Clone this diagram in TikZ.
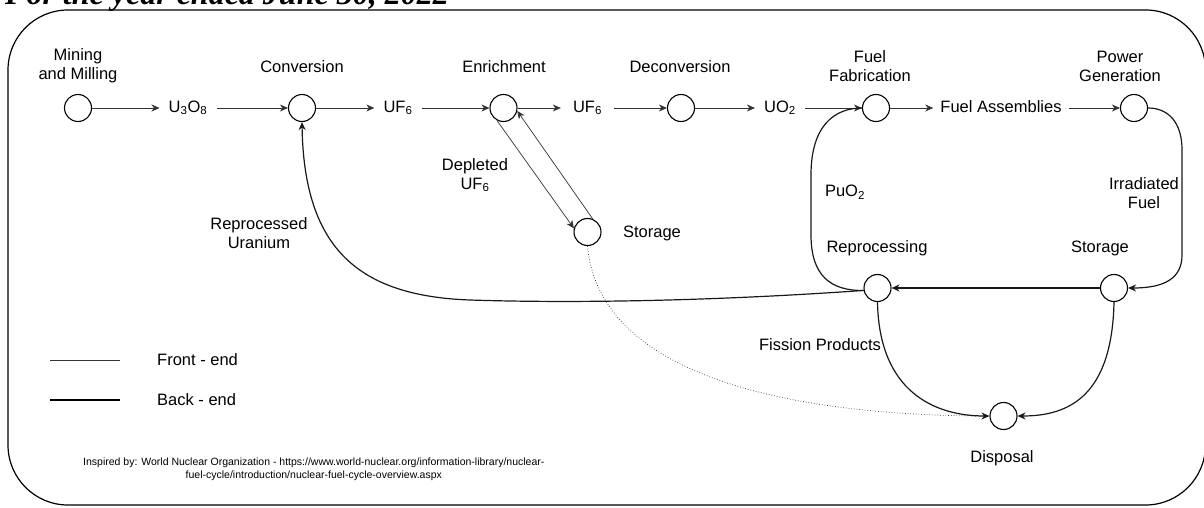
\documentclass[tikz,border=0pt]{standalone}
\usepackage{fontspec}
\setmainfont{Liberation Sans}
\newfontfamily\titlefont{Liberation Serif}
\usetikzlibrary{arrows.meta}
\begin{document}
\begin{tikzpicture}[x=1pt,y=-1pt,
  font=\fontsize{16.5}{19}\selectfont,
  proc/.style={circle,draw,line width=1.1pt,minimum size=27pt,inner sep=0pt},
  lab/.style={inner xsep=9pt,inner ysep=0pt,text height=12pt,text depth=3.5pt},
  txt/.style={align=center,inner sep=0pt},
  front/.style={line width=0.7pt,draw=black!80},
  back/.style={line width=1.2pt,draw=black!90},
  arr/.style={-{Stealth[length=8pt,width=7pt,inset=2.5pt]}},
]
\useasboundingbox (0,0) rectangle (1204,508);
% cropped heading
\node[anchor=base west,inner sep=0pt,font=\titlefont\bfseries\itshape\fontsize{32}{36}\selectfont] (title) at (5,5) {For the year ended June 30, 2022};
% frame
\draw[line width=1.2pt,rounded corners=60pt] (8,10) rectangle (1205.5,505);

% process circles
\node[proc] (mm)   at (78,108) {};
\node[proc] (conv) at (302,108) {};
\node[proc] (enr)  at (503.5,108) {};
\node[proc] (dec)  at (681,108) {};
\node[proc] (ff)   at (876,108) {};
\node[proc] (pg)   at (1134,108) {};
\node[proc] (sto1) at (587.5,232) {};
\node[proc] (rep)  at (877.5,288) {};
\node[proc] (sto2) at (1114,288) {};
\node[proc] (disp) at (1003.5,416) {};

% stage titles
\node[txt] (tmm)   at (78,66)   {Mining\\and Milling};
\node[txt] (tconv) at (302,67)  {Conversion};
\node[txt] (tenr)  at (504,67)  {Enrichment};
\node[txt] (tdec)  at (680,67)  {Deconversion};
\node[txt] (tff)   at (870,66)  {Fuel\\Fabrication};
\node[txt] (tpg)   at (1120,66) {Power\\Generation};
\node[txt] (tsto1) at (652,233) {Storage};
\node[txt] (trep)  at (877,248) {Reprocessing};
\node[txt] (tsto2) at (1100,248) {Storage};
\node[txt] (tdisp) at (1002,458) {Disposal};

% flow labels
\node[lab] (u3o8) at (188,108)  {U\textsubscript{3}O\textsubscript{8}};
\node[lab] (uf6a) at (398,108)  {UF\textsubscript{6}};
\node[lab,inner xsep=12pt] (uf6b) at (587.5,108) {UF\textsubscript{6}};
\node[lab] (uo2)  at (780,108)  {UO\textsubscript{2}};
\node[lab,inner xsep=7pt] (fa) at (1001,108) {Fuel Assemblies};
\node[txt] (dep)  at (475,175)  {Depleted\\UF\textsubscript{6}};
\node[txt] (ru)   at (259,233)  {Reprocessed\\Uranium};
\node[txt] (puo2) at (845,192)  {PuO\textsubscript{2}};
\node[txt] (irr)  at (1144,193) {Irradiated\\Fuel};
\node[txt] (fp)   at (820,345)  {Fission Products};

% front-end flows
\draw[front,arr] (mm) -- (mm -| u3o8.west);
\draw[front,arr] (u3o8) -- (conv);
\draw[front,arr] (conv) -- (conv -| uf6a.west);
\draw[front,arr] (uf6a) -- (enr);
\draw[front,arr] (enr) -- (enr -| uf6b.west);
\draw[front,arr] (uf6b) -- (dec);
\draw[front,arr] (dec) -- (dec -| uo2.west);
\draw[front,arr] (uo2) -- (ff);
\draw[front,arr] (ff) -- (ff -| fa.west);
\draw[front,arr] (fa) -- (pg);
\draw[front,arr] (enr.-118) -- (sto1.165);
\draw[front,arr] (sto1.68) -- (enr.-12);
\draw[front,dotted] (sto1.south) .. controls (600,380) and (800,416) .. (disp.west);

% back-end flows
\coordinate (irrA) at (1182,150);
\coordinate (irrB) at (1182,255);
\draw[back,arr] (pg.east) .. controls (1168,108) and (1182,122) .. (irrA) -- (irrB) .. controls (1182,278) and (1165,288) .. (sto2.east);
\draw[back,arr] (sto2) -- (rep);
\coordinate (ruA) at (470,300);
\draw[back,arr] (rep.190) .. controls (700,302) and (560,303) .. (ruA) .. controls (360,296) and (304,250) .. (conv.south);
\coordinate (puA) at (811,235);
\coordinate (puB) at (811,175);
\draw[back] (rep.190) .. controls (830,291) and (811,275) .. (puA) -- (puB) .. controls (811,125) and (835,108) .. (ff.west);
\draw[back,arr] (rep.south) .. controls (879,392) and (935,416) .. (disp.west);
\draw[back,arr] (sto2.south) .. controls (1112,395) and (1070,416) .. (disp.east);

% legend
\coordinate (lf1) at (50,360);
\coordinate (lf2) at (120,360);
\coordinate (lb1) at (50,400);
\coordinate (lb2) at (120,400);
\draw[front] (lf1) -- (lf2);
\draw[line width=1.6pt] (lb1) -- (lb2);
\node[anchor=west,inner sep=0pt] (lft) at (157,360) {Front - end};
\node[anchor=west,inner sep=0pt] (lbt) at (157,400) {Back - end};

% source note
\node[anchor=north west,align=center,inner sep=0pt,font=\fontsize{10.5}{12.5}\selectfont] (src) at (83,458)
  {Inspired by: World Nuclear Organization - https://www.world-nuclear.org/information-library/nuclear-\\fuel-cycle/introduction/nuclear-fuel-cycle-overview.aspx};
\end{tikzpicture}
\end{document}
